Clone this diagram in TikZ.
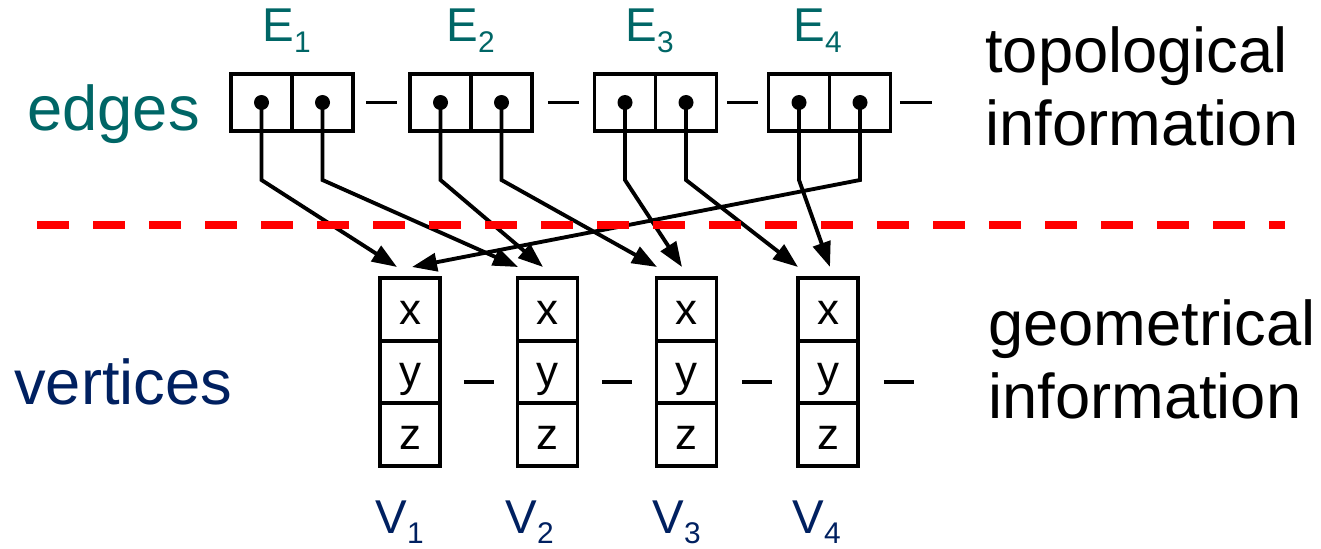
\documentclass[tikz,border=0pt]{standalone}
\usepackage{fontspec}
\setmainfont{Liberation Sans}
\usetikzlibrary{calc,arrows.meta}
\definecolor{edgeteal}{RGB}{0,102,102}
\definecolor{vertnavy}{RGB}{0,32,96}
\newcommand{\withsub}[2]{#1\raisebox{-6pt}{\fontsize{17}{17}\selectfont #2}}

\begin{document}
\begin{tikzpicture}[x=1cm,y=1cm,
  ecell/.style={draw,line width=2.2pt,minimum width=1.22cm,minimum height=1.14cm,inner sep=0pt},
  vcell/.style={draw,line width=2.2pt,minimum width=1.2cm,minimum height=1.25cm,inner sep=0pt,
    text height=16.5pt,text depth=0pt,font=\fontsize{25}{25}\selectfont},
  ptr/.style={line width=2.2pt,-{Triangle[length=0.5cm,width=0.36cm]}},
  link/.style={line width=2pt},
  biglab/.style={anchor=base west,inner sep=0pt,font=\fontsize{36}{41.5}\selectfont},
  elab/.style={anchor=base west,inner sep=0pt,text=edgeteal,font=\fontsize{27}{27}\selectfont},
  vlab/.style={anchor=base west,inner sep=0pt,text=vertnavy,font=\fontsize{27}{27}\selectfont}]
  \useasboundingbox (0,0) rectangle (26.42,10.96);
  % edge records
  \node[ecell] (e1a) at (5.23,8.91) {};
  \node[ecell] (e1b) at (6.45,8.91) {};
  \node[ecell] (e2a) at (8.81,8.91) {};
  \node[ecell] (e2b) at (10.03,8.91) {};
  \node[ecell] (e3a) at (12.50,8.91) {};
  \node[ecell] (e3b) at (13.72,8.91) {};
  \node[ecell] (e4a) at (15.98,8.91) {};
  \node[ecell] (e4b) at (17.20,8.91) {};
  \draw[link] ($(e1b.east)!0.5!(e2a.west)+(-0.31,0)$) -- ++(0.62,0);
  \draw[link] ($(e2b.east)!0.5!(e3a.west)+(-0.31,0)$) -- ++(0.62,0);
  \draw[link] ($(e3b.east)!0.5!(e4a.west)+(-0.31,0)$) -- ++(0.62,0);
  \draw[link] ($(e4b.east)+(0.15,0)$) -- ++(0.64,0);
  \node[elab] (E1) at (5.24,10.12) {\withsub{E}{1}};
  \node[elab] (E2) at (8.92,10.12) {\withsub{E}{2}};
  \node[elab] (E3) at (12.50,10.12) {\withsub{E}{3}};
  \node[elab] (E4) at (15.86,10.12) {\withsub{E}{4}};
  % vertex records
  \node[vcell] (v1x) at (8.20,4.77) {x};
  \node[vcell] (v1y) at (8.20,3.52) {y};
  \node[vcell] (v1z) at (8.20,2.27) {z};
  \node[vcell] (v2x) at (10.95,4.77) {x};
  \node[vcell] (v2y) at (10.95,3.52) {y};
  \node[vcell] (v2z) at (10.95,2.27) {z};
  \node[vcell] (v3x) at (13.73,4.77) {x};
  \node[vcell] (v3y) at (13.73,3.52) {y};
  \node[vcell] (v3z) at (13.73,2.27) {z};
  \node[vcell] (v4x) at (16.56,4.77) {x};
  \node[vcell] (v4y) at (16.56,3.52) {y};
  \node[vcell] (v4z) at (16.56,2.27) {z};
  \draw[link] ($(v1y.east)!0.5!(v2y.west)+(-0.3,-0.2)$) -- ++(0.6,0);
  \draw[link] ($(v2y.east)!0.5!(v3y.west)+(-0.3,-0.2)$) -- ++(0.6,0);
  \draw[link] ($(v3y.east)!0.5!(v4y.west)+(-0.3,-0.2)$) -- ++(0.6,0);
  \draw[link] ($(v4y.east)+(0.48,-0.2)$) -- ++(0.6,0);
  \node[vlab] (V1) at (7.50,0.30) {\withsub{V}{1}};
  \node[vlab] (V2) at (10.10,0.30) {\withsub{V}{2}};
  \node[vlab] (V3) at (13.04,0.30) {\withsub{V}{3}};
  \node[vlab] (V4) at (15.84,0.30) {\withsub{V}{4}};
  % pointers
  \coordinate (v1p) at (7.94,5.62);
  \coordinate (v1q) at (8.24,5.62);
  \coordinate (v2p) at (10.36,5.62);
  \coordinate (v2q) at (10.86,5.62);
  \coordinate (v3p) at (13.14,5.62);
  \coordinate (v3q) at (13.64,5.62);
  \coordinate (v4p) at (15.96,5.62);
  \coordinate (v4q) at (16.60,5.62);
  \draw[ptr] (e1a.center) -- ++(0,-1.55) -- (v1p);
  \draw[ptr] (e1b.center) -- ++(0,-1.55) -- (v2p);
  \draw[ptr] (e2a.center) -- ++(0,-1.55) -- (v2q);
  \draw[ptr] (e2b.center) -- ++(0,-1.55) -- (v3p);
  \draw[ptr] (e3a.center) -- ++(0,-1.55) -- (v3q);
  \draw[ptr] (e3b.center) -- ++(0,-1.55) -- (v4p);
  \draw[ptr] (e4a.center) -- ++(0,-1.55) -- (v4q);
  \draw[ptr] (e4b.center) -- ++(0,-1.55) -- (v1q);
  \fill (e1a) circle (0.15);
  \fill (e1b) circle (0.15);
  \fill (e2a) circle (0.15);
  \fill (e2b) circle (0.15);
  \fill (e3a) circle (0.15);
  \fill (e3b) circle (0.15);
  \fill (e4a) circle (0.15);
  \fill (e4b) circle (0.15);
  % dividing line
  \draw[red,line width=4.5pt,dash pattern=on 0.64cm off 0.48cm] (0.74,6.46) -- (25.70,6.46);
  % side labels
  \node[biglab,text=edgeteal] (edges) at (0.54,8.36) {edges};
  \node[biglab,text=vertnavy] (vertices) at (0.28,2.88) {vertices};
  \node[biglab,align=left] (topo) at (19.70,8.06) {topological\\information};
  \node[biglab,align=left] (geom) at (19.76,2.60) {geometrical\\information};
\end{tikzpicture}
\end{document}
